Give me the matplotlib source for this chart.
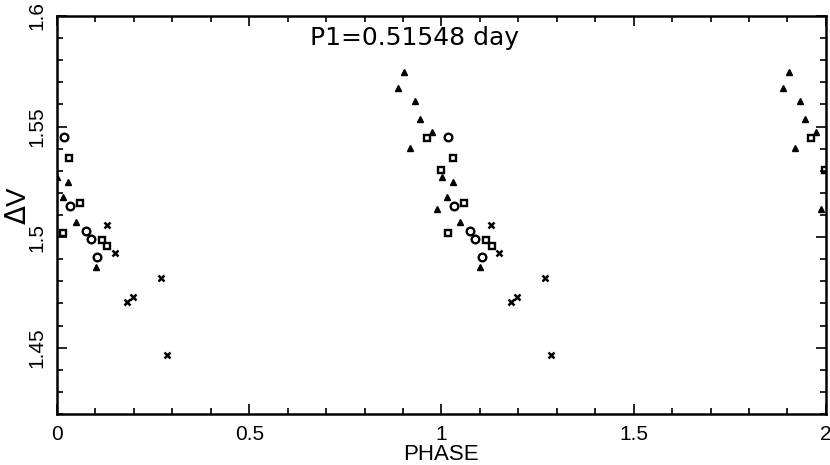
import numpy as np
import matplotlib
matplotlib.use('Agg')
import matplotlib.pyplot as plt
from matplotlib.ticker import MultipleLocator

# Phased light curve, phases in [0,1) -- drawn twice (phase, phase+1)
tri_phase = [0.9039, 0.8883, 0.9317, 0.9455, 0.9187, 0.9878, 0.0008, 0.0294,
             0.0148, 0.0494, 0.1005, 0.9748]
tri_dv = [1.5748, 1.5673, 1.5616, 1.5533, 1.5404, 1.5127, 1.5273, 1.5251,
          1.5180, 1.5070, 1.4866, 1.5474]

circ_phase = [0.0182, 0.0338, 0.0745, 0.0883, 0.1047]
circ_dv = [1.5451, 1.5142, 1.5029, 1.4992, 1.4911]

sq_phase = [0.9618, 0.0312, 0.9990, 0.0597, 0.0164, 0.1161, 0.1306]
sq_dv = [1.5450, 1.5356, 1.5304, 1.5153, 1.5020, 1.4987, 1.4961]

x_phase = [0.1291, 0.1506, 0.2701, 0.1810, 0.1966, 0.2849]
x_dv = [1.5055, 1.4930, 1.4814, 1.4708, 1.4731, 1.4467]

period_txt = 'P1=0.51548 day'

plt.rcParams['font.family'] = ['Liberation Sans', 'DejaVu Sans']

fig = plt.figure(figsize=(8.3, 4.65), dpi=100)
ax = fig.add_axes([0.0687, 0.1097, 0.9263, 0.8559])


def two_cycles(ph, dv):
    ph = np.asarray(ph)
    dv = np.asarray(dv)
    return np.concatenate([ph, ph + 1]), np.concatenate([dv, dv])


px, py = two_cycles(tri_phase, tri_dv)
ax.plot(px, py, '^', color='k', ms=5, mew=1)
px, py = two_cycles(circ_phase, circ_dv)
ax.plot(px, py, 'o', mfc='none', mec='k', ms=5.5, mew=1.7)
px, py = two_cycles(sq_phase, sq_dv)
ax.plot(px, py, 's', mfc='none', mec='k', ms=5, mew=1.7)
px, py = two_cycles(x_phase, x_dv)
ax.plot(px, py, 'x', color='k', ms=4.5, mew=1.8)

ax.set_xlim(0, 2)
ax.set_ylim(1.42, 1.6)

ax.xaxis.set_minor_locator(MultipleLocator(0.1))
ax.yaxis.set_minor_locator(MultipleLocator(0.01))
ax.set_xticks([0, 0.5, 1, 1.5, 2])
ax.set_xticklabels(['0', '0.5', '1', '1.5', '2'])
ax.set_yticks([1.45, 1.5, 1.55, 1.6])
ax.set_yticklabels(['1.45', '1.5', '1.55', '1.6'], rotation=90, va='center')

ax.tick_params(which='both', direction='in', top=True, right=True, width=1.2,
               labelsize=15, pad=8)
ax.tick_params(which='major', length=7)
ax.tick_params(which='minor', length=4)
for s in ax.spines.values():
    s.set_linewidth(1.8)

ax.set_xlabel('PHASE', fontsize=16, labelpad=0)
fig.text(19 / 830, 1 - 205 / 465, r'$\Delta$V', rotation=90, ha='center',
         va='center', fontsize=20)
ax.text(0.465, 0.975, period_txt, transform=ax.transAxes, ha='center', va='top',
        fontsize=18, family='DejaVu Sans')

fig.savefig('out.png', dpi=100)
